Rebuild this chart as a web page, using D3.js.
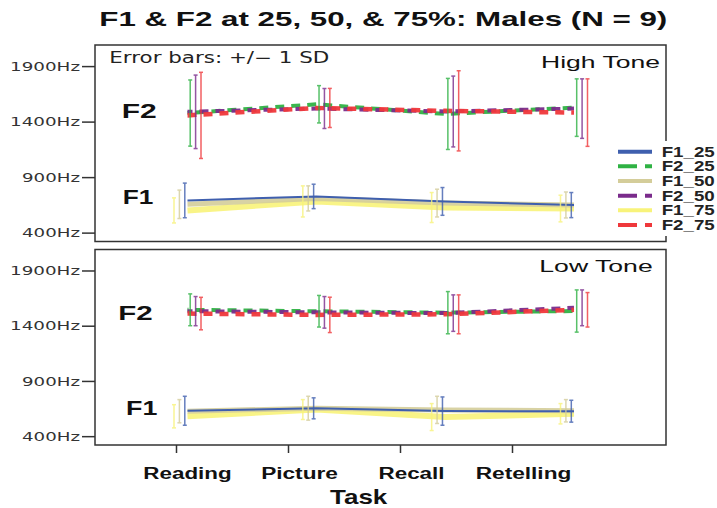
<!DOCTYPE html>
<html>
<head>
<meta charset="utf-8">
<script src="https://cdn.jsdelivr.net/npm/d3@7"></script>
<style>
  html, body { margin: 0; padding: 0; background: #fff; }
  svg { display: block; }
</style>
</head>
<body>
<svg id="chart" width="717" height="508"></svg>
<script>
// Formant means (Hz) and standard deviations per task, for each tone condition.
const tasks = ["Reading", "Picture", "Recall", "Retelling"];
const seriesNames = ["F1_25", "F2_25", "F1_50", "F2_50", "F1_75", "F2_75"];
const yTicks = [400, 900, 1400, 1900];

const highF1_25 = [690, 726, 681, 648];
const highF1_50 = [655, 708, 666, 649];
const highF1_75 = [600, 681, 626, 617];
const highF2_25 = [1477, 1556, 1469, 1526];
const highF2_50 = [1488, 1518, 1491, 1517];
const highF2_75 = [1456, 1523, 1497, 1481];
const highSd_F1_25 = [156, 110, 125, 113];
const highSd_F1_50 = [128, 113, 125, 117];
const highSd_F1_75 = [113, 140, 135, 120];
const highSd_F2_25 = [298, 168, 320, 259];
const highSd_F2_50 = [331, 180, 319, 268];
const highSd_F2_75 = [388, 176, 361, 304];

const lowF1_25 = [630, 652, 627, 626];
const lowF1_50 = [626, 653, 638, 630];
const lowF1_75 = [580, 641, 573, 603];
const lowF2_25 = [1544, 1531, 1518, 1533];
const lowF2_50 = [1532, 1521, 1514, 1562];
const lowF2_75 = [1510, 1498, 1503, 1544];
const lowSd_F1_25 = [131, 95, 128, 99];
const lowSd_F1_50 = [105, 108, 123, 101];
const lowSd_F1_75 = [105, 90, 122, 92];
const lowSd_F2_25 = [144, 143, 191, 191];
const lowSd_F2_50 = [132, 143, 165, 162];
const lowSd_F2_75 = [147, 160, 176, 156];

// Series styling
const style = {
  F1_25: { color: "#3f5fae", width: 2,   dash: null, opacity: 1 },
  F2_25: { color: "#2fb244", width: 4,   dash: "9,7", opacity: 0.95 },
  F1_50: { color: "#d4cd9a", width: 5,   dash: null, opacity: 0.9 },
  F2_50: { color: "#7a2b8b", width: 4,   dash: "9,7", opacity: 0.95 },
  F1_75: { color: "#f8f37a", width: 6,   dash: null, opacity: 0.9 },
  F2_75: { color: "#ef383b", width: 4.5, dash: "9,7", opacity: 0.95 }
};

const panels = [
  {
    label: "High Tone", top: 45, height: 196.5,
    means: { F1_25: highF1_25, F2_25: highF2_25, F1_50: highF1_50, F2_50: highF2_50, F1_75: highF1_75, F2_75: highF2_75 },
    sds:   { F1_25: highSd_F1_25, F2_25: highSd_F2_25, F1_50: highSd_F1_50, F2_50: highSd_F2_50, F1_75: highSd_F1_75, F2_75: highSd_F2_75 },
    f2Label: { x: 121.7, y: 118.3, w: 35 }, f1Label: { x: 122.7, y: 204.3, w: 30.6 },
    toneLabel: { x: 660, y: 68.3, w: 119 }
  },
  {
    label: "Low Tone", top: 249.5, height: 195.5,
    means: { F1_25: lowF1_25, F2_25: lowF2_25, F1_50: lowF1_50, F2_50: lowF2_50, F1_75: lowF1_75, F2_75: lowF2_75 },
    sds:   { F1_25: lowSd_F1_25, F2_25: lowSd_F2_25, F1_50: lowSd_F1_50, F2_50: lowSd_F2_50, F1_75: lowSd_F1_75, F2_75: lowSd_F2_75 },
    f2Label: { x: 118.3, y: 320, w: 34.4 }, f1Label: { x: 126, y: 415, w: 31.3 },
    toneLabel: { x: 652.7, y: 271.7, w: 113.4 }
  }
];

const svg = d3.select("#chart");
const left = 95, right = 666;

// Data positions (cluster centers) and the labelled task axis
const xData = d3.scalePoint().domain(tasks).range([187.5, 574]);
const xAxisScale = d3.scalePoint().domain(tasks).range([176, 512]);
// Error-bar offsets within each cluster
const dodge = d3.scalePoint().domain(["F1_75", "F1_50", "F1_25", "F2_25", "F2_50", "F2_75"]).range([-13.5, 13.5]);

// Drawing order of the mean lines
const lineOrder = ["F1_75", "F1_50", "F1_25", "F2_25", "F2_50", "F2_75"];
const barOrder = ["F1_75", "F1_50", "F1_25", "F2_25", "F2_50", "F2_75"];
const sans = "'Liberation Sans', Arial, Helvetica, sans-serif";
const dejavu = "'DejaVu Sans', Verdana, sans-serif";

// Title
svg.append("text")
  .attr("x", 99.3).attr("y", 26)
  .attr("font-family", sans).attr("font-weight", "bold").attr("font-size", 21)
  .attr("textLength", 568).attr("lengthAdjust", "spacingAndGlyphs")
  .attr("fill", "#111")
  .text("F1 & F2 at 25, 50, & 75%: Males (N = 9)");

panels.forEach((p, pi) => {
  const g = svg.append("g");
  const y = d3.scaleLinear().domain([320, 2090]).range([p.top + p.height, p.top]);

  // Frame
  g.append("rect")
    .attr("x", left).attr("y", p.top)
    .attr("width", right - left).attr("height", p.height)
    .attr("fill", "#fff").attr("stroke", "#333").attr("stroke-width", 1.5);

  // Y axis ticks and labels
  const yAxis = g.append("g").attr("transform", `translate(${left},0)`)
    .call(d3.axisLeft(y).tickValues(yTicks).tickSize(13).tickFormat(d => d + "Hz"));
  yAxis.select(".domain").remove();
  yAxis.selectAll(".tick line").attr("stroke", "#333").attr("stroke-width", 1.5);
  yAxis.selectAll(".tick text")
    .attr("font-family", dejavu).attr("font-size", 11.5).attr("fill", "#333")
    .attr("x", -15).attr("dy", "0.36em")
    .attr("textLength", d => String(d).length === 4 ? 70 : 58)
    .attr("lengthAdjust", "spacingAndGlyphs");

  // Mean lines
  const line = d3.line().x((d, i) => xData(tasks[i])).y(d => y(d));
  lineOrder.forEach(s => {
    const st = style[s];
    g.append("path")
      .datum(p.means[s])
      .attr("d", line)
      .attr("fill", "none")
      .attr("stroke", st.color)
      .attr("stroke-width", st.width)
      .attr("stroke-dasharray", st.dash)
      .attr("stroke-dashoffset", s === "F2_25" ? 8 : (s === "F2_50" ? 4 : 0))
      .attr("stroke-linejoin", "round")
      .attr("opacity", st.opacity);
  });

  // Error bars (+/- 1 SD)
  barOrder.forEach(s => {
    const st = style[s];
    const eb = g.append("g").attr("stroke", st.color).attr("stroke-width", 1.5).attr("opacity", 0.8);
    tasks.forEach((t, i) => {
      const cx = xData(t) + dodge(s);
      const m = p.means[s][i], sd = p.sds[s][i];
      const y0 = y(m - sd), y1 = y(m + sd);
      eb.append("line").attr("x1", cx).attr("x2", cx).attr("y1", y0).attr("y2", y1);
      eb.append("line").attr("x1", cx - 2).attr("x2", cx + 2).attr("y1", y0).attr("y2", y0);
      eb.append("line").attr("x1", cx - 2).attr("x2", cx + 2).attr("y1", y1).attr("y2", y1);
    });
  });

  // Formant labels
  [["F2", p.f2Label], ["F1", p.f1Label]].forEach(([txt, pos]) => {
    g.append("text")
      .attr("x", pos.x).attr("y", pos.y)
      .attr("font-family", sans).attr("font-weight", "bold").attr("font-size", 20)
      .attr("textLength", pos.w).attr("lengthAdjust", "spacingAndGlyphs")
      .attr("fill", "#111").text(txt);
  });

  // Tone label
  g.append("text")
    .attr("x", p.toneLabel.x - p.toneLabel.w).attr("y", p.toneLabel.y)
    .attr("font-family", sans).attr("font-size", 17)
    .attr("textLength", p.toneLabel.w).attr("lengthAdjust", "spacingAndGlyphs")
    .attr("fill", "#111").text(p.label);

  if (pi === 0) {
    g.append("text")
      .attr("x", 109.3).attr("y", 63.3)
      .attr("font-family", dejavu).attr("font-size", 15)
      .attr("textLength", 220).attr("lengthAdjust", "spacingAndGlyphs")
      .attr("fill", "#222").text("Error bars: +/\u2212 1 SD");
  }

  if (pi === 1) {
    // Task axis
    const xa = svg.append("g").attr("transform", `translate(0,${p.top + p.height})`)
      .call(d3.axisBottom(xAxisScale).tickSize(8).tickPadding(19));
    xa.select(".domain").remove();
    xa.selectAll(".tick line").attr("stroke", "#333").attr("stroke-width", 1.5);
    const labelW = { Reading: 88.3, Picture: 76.7, Recall: 66, Retelling: 95.7 };
    xa.selectAll(".tick text")
      .attr("font-family", sans).attr("font-weight", "bold").attr("font-size", 16)
      .attr("fill", "#111").attr("dy", "0.45em")
      .attr("dx", 11)
      .attr("textLength", d => labelW[d]).attr("lengthAdjust", "spacingAndGlyphs");

    svg.append("text")
      .attr("x", 330).attr("y", 504)
      .attr("font-family", sans).attr("font-weight", "bold").attr("font-size", 21)
      .attr("textLength", 57.3).attr("lengthAdjust", "spacingAndGlyphs")
      .attr("fill", "#111").text("Task");
  }
});

// Legend
const legend = svg.append("g");
legend.append("rect").attr("x", 612).attr("y", 141).attr("width", 105).attr("height", 95).attr("fill", "#fff");
const legY = d3.scalePoint().domain(seriesNames).range([151.7, 225]);
seriesNames.forEach(s => {
  const st = style[s];
  const yy = legY(s);
  legend.append("line")
    .attr("x1", 618).attr("x2", 652).attr("y1", yy).attr("y2", yy)
    .attr("stroke", st.color).attr("stroke-width", 4)
    .attr("stroke-dasharray", st.dash ? "19,8,7" : null);
  legend.append("text")
    .attr("x", 661.7).attr("y", yy + 5)
    .attr("font-family", sans).attr("font-weight", "bold").attr("font-size", 14)
    .attr("textLength", 53).attr("lengthAdjust", "spacingAndGlyphs")
    .attr("fill", "#222").text(s);
});
</script>
</body>
</html>
